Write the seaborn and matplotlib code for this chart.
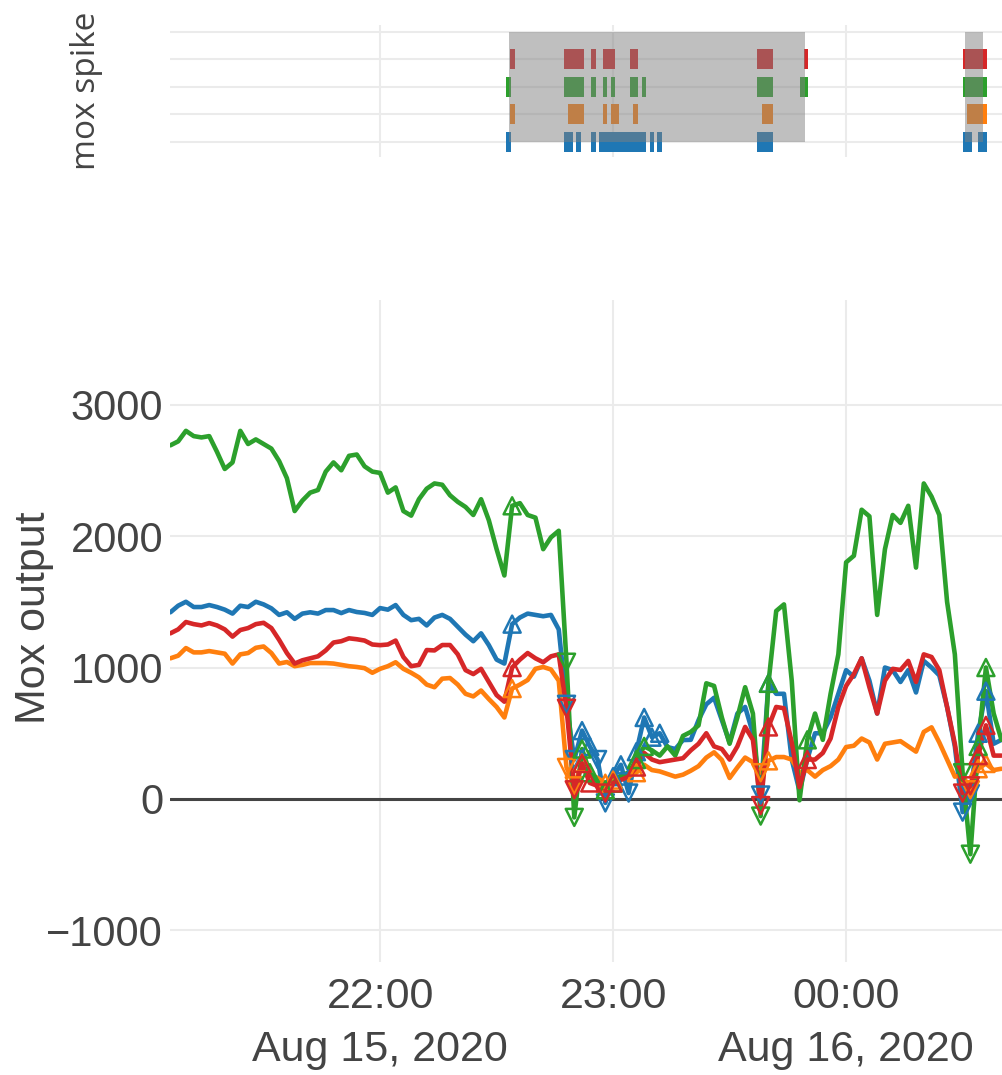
import numpy as np
import pandas as pd
import seaborn as sns
import matplotlib.pyplot as plt
import matplotlib.dates as mdates

# sample times, minutes after 21:00 on Aug 15, 2020 (2 min steps)
minutes = list(range(6, 221, 2))

sensors = ["mox_0", "mox_1", "mox_2", "mox_3"]
colors = ["#1f77b4", "#ff7f0e", "#2ca02c", "#d62728"]

blue_vals = [1420, 1470, 1500, 1460, 1460, 1475, 1460, 1440, 1410, 1470,
             1460, 1500, 1480, 1450, 1400, 1420, 1370, 1410, 1420, 1410,
             1437, 1437, 1414, 1437, 1422, 1415, 1400, 1452, 1440, 1475,
             1400, 1360, 1370, 1320, 1380, 1400, 1370, 1310, 1250, 1200,
             1260, 1170, 1060, 1030, 1330, 1380, 1410, 1400, 1390, 1400,
             1290, 720, 300, 520, 400, 300, -30, 170, 260, 45,
             360, 620, 470, 500, 395, 380, 448, 450, 600, 720,
             770, 600, 430, 650, 700, 500, 30, 880, 800, 800,
             300, 60, 300, 500, 500, 620, 800, 980, 930, 1070,
             900, 650, 1000, 980, 890, 980, 810, 1050, 1000, 940,
             700, 400, -100, 40, 500, 820, 420, 450]

orange_vals = [1070, 1090, 1148, 1115, 1115, 1125, 1115, 1105, 1030, 1100,
               1110, 1150, 1160, 1110, 1030, 1042, 1010, 1020, 1034, 1034,
               1034, 1030, 1020, 1010, 1004, 995, 960, 990, 1010, 1040,
               990, 960, 925, 870, 850, 915, 920, 870, 800, 780,
               825, 760, 700, 620, 840, 870, 905, 990, 1004, 985,
               900, 240, 100, 274, 190, 160, 120, 144, 150, 170,
               200, 260, 220, 210, 190, 170, 185, 215, 250, 315,
               355, 297, 160, 240, 315, 280, 200, 290, 319, 319,
               300, 200, 220, 170, 220, 250, 300, 395, 405, 460,
               430, 300, 420, 430, 440, 400, 360, 510, 545, 430,
               300, 170, 180, 70, 230, 270, 220, 230]

green_vals = [2690, 2720, 2800, 2760, 2750, 2760, 2640, 2510, 2560, 2800,
              2700, 2735, 2700, 2665, 2570, 2440, 2190, 2270, 2330, 2350,
              2490, 2560, 2500, 2610, 2620, 2530, 2490, 2480, 2330, 2370,
              2190, 2155, 2280, 2360, 2400, 2390, 2310, 2260, 2221, 2160,
              2280, 2120, 1900, 1700, 2230, 2250, 2160, 2140, 1900, 1990,
              2040, 1040, -140, 380, 200, 130, 70, 120, 180, 200,
              300, 400, 370, 330, 400, 330, 480, 510, 560, 880,
              860, 620, 420, 620, 850, 650, -130, 880, 1430, 1480,
              900, -10, 450, 650, 450, 800, 1100, 1800, 1850, 2200,
              2150, 1400, 1900, 2160, 2100, 2230, 1760, 2400, 2300, 2160,
              1500, 1100, 200, -420, 400, 1000, 650, 450]

red_vals = [1260, 1290, 1346, 1330, 1320, 1338, 1320, 1290, 1235, 1285,
            1300, 1330, 1340, 1300, 1210, 1110, 1030, 1055, 1070, 1085,
            1130, 1190, 1200, 1222, 1215, 1205, 1175, 1170, 1175, 1205,
            1080, 1010, 1020, 1133, 1130, 1171, 1171, 1100, 980, 950,
            990, 890, 790, 740, 1000, 1060, 1110, 1070, 1040, 1085,
            1100, 690, 70, 270, 122, 100, 45, 122, 145, 170,
            243, 350, 300, 280, 290, 300, 310, 370, 420, 500,
            400, 380, 300, 400, 548, 450, -50, 548, 700, 690,
            430, 90, 300, 300, 350, 460, 700, 860, 950, 1070,
            850, 650, 900, 990, 981, 1050, 890, 1100, 1080, 980,
            700, 420, 45, 100, 330, 560, 330, 330]

# spike markers on the main plot (minutes after 21:00)
blue_up = [94, 112, 114, 120, 122, 126, 128, 130, 132, 160, 214, 216]
blue_down = [108, 110, 116, 118, 124, 158, 210, 212]
orange_up = [94, 112, 118, 120, 126, 160, 214, 216]
orange_down = [108, 110, 158, 212]
green_up = [94, 112, 114, 118, 120, 126, 128, 160, 170, 214, 216]
green_down = [108, 110, 158, 210, 212]
red_up = [94, 112, 114, 120, 126, 160, 170, 214, 216]
red_down = [108, 110, 118, 158, 210, 212]

# spike intervals for the top strip (start, end minutes)
blue_spikes = [(92.4, 93.7), (107.4, 109.7), (110.5, 111.8), (114.3, 115.6), (116.4, 128.5),
               (129.5, 130.6), (131.3, 132.6), (157.1, 161.2), (210.1, 212.5), (214.0, 216.3)]
orange_spikes = [(93.5, 94.8), (108.4, 112.5), (117.4, 118.5), (119.5, 121.5), (125.2, 126.4),
                 (158.4, 161.2), (211.2, 216.3)]
green_spikes = [(92.4, 93.7), (107.4, 112.5), (114.3, 115.6), (117.4, 118.5), (119.5, 120.5),
                (124.4, 126.4), (127.5, 128.5), (157.1, 161.2), (168.2, 170.2), (210.1, 216.3)]
red_spikes = [(93.5, 94.8), (107.4, 112.5), (114.3, 115.6), (117.4, 120.5), (124.4, 126.4),
              (157.1, 161.2), (169.2, 170.2), (210.1, 216.3)]
event_windows = [(93.2, 169.4), (210.7, 215.3)]

tick_minutes = [60, 120, 180]
tick_labels = ["22:00\nAug 15, 2020", "23:00", "00:00\nAug 16, 2020"]
y_ticks = [-1000, 0, 1000, 2000, 3000]

t0 = pd.Timestamp("2020-08-15 21:00")
base = mdates.date2num(t0.to_pydatetime())


def tnum(m):
    return base + np.asarray(m, dtype=float) / 1440.0


all_vals = [blue_vals, orange_vals, green_vals, red_vals]
ups = [blue_up, orange_up, green_up, red_up]
downs = [blue_down, orange_down, green_down, red_down]
spikes = [blue_spikes, orange_spikes, green_spikes, red_spikes]

df = pd.DataFrame({
    "time": np.tile(tnum(minutes), 4),
    "value": np.concatenate(all_vals),
    "sensor": np.repeat(sensors, len(minutes)),
})

sns.set_theme(style="white")
plt.rcParams['font.family'] = ['Liberation Sans', 'DejaVu Sans']
text_col = "#444444"
grid_col = "#ebebeb"

fig = plt.figure(figsize=(10.03, 10.75), dpi=100)
ax_top = fig.add_axes([0.1695, 0.854, 0.8305, 0.1228])
ax = fig.add_axes([0.1695, 0.1051, 0.8305, 0.6158], sharex=ax_top)

# main lines
sns.lineplot(data=df, x="time", y="value", hue="sensor", hue_order=sensors,
             palette=colors, linewidth=3.3, estimator=None, legend=False, ax=ax, zorder=2)

# spike markers
for vals, col, up, dn in zip(all_vals, colors, ups, downs):
    s = pd.Series(vals, index=minutes)
    ax.scatter(tnum(up), s.loc[up].values, marker="^", s=150, facecolors="none",
               edgecolors=col, linewidths=1.8, zorder=3)
    ax.scatter(tnum(dn), s.loc[dn].values, marker="v", s=150, facecolors="none",
               edgecolors=col, linewidths=1.8, zorder=3)

ax.axhline(0, color="#444444", lw=2.2, zorder=1.5)

# top strip
for row, (sp, col) in enumerate(zip(spikes, colors)):
    st = [a for a, b in sp]
    en = [b for a, b in sp]
    ax_top.hlines([row] * len(sp), tnum(st), tnum(en), colors=col, lw=14.4, zorder=2)
for a, b in event_windows:
    ax_top.fill_between(tnum([a, b]), 0, 4, color="#808080", alpha=0.5, lw=0, zorder=3)

ax_top.set_ylim(-0.55, 4.25)
ax_top.set_yticks([0, 1, 2, 3, 4])
ax_top.set_yticklabels([])
ax_top.tick_params(labelbottom=False)

ax.set_ylim(-1240, 3795)
ax.set_yticks(y_ticks)
ax.set_xlim(tnum(5.9), tnum(220.4))
ax.set_xticks(tnum(tick_minutes))
ax.set_xticklabels(tick_labels, fontsize=31, color=text_col, linespacing=1.4)
ax.tick_params(axis="y", labelsize=30, labelcolor=text_col, pad=5)
ax.tick_params(axis="x", pad=11)

for a in (ax_top, ax):
    for sp in a.spines.values():
        sp.set_visible(False)
    a.grid(True, color=grid_col, linewidth=1.5)
    a.set_axisbelow(True)
    a.tick_params(length=0)
    a.set_xlabel("")

ax.set_ylabel("Mox output", fontsize=31, color=text_col)
ax.yaxis.label.set_verticalalignment("center")
ax.yaxis.set_label_coords(-0.163, 0.52)

ax_top.set_ylabel("mox spike", fontsize=24, color=text_col, family=["Open Sans", "DejaVu Sans"])
ax_top.yaxis.label.set_verticalalignment("center")
ax_top.yaxis.set_label_coords(-0.1008, 0.5)

fig.savefig("out.png", dpi=100)
